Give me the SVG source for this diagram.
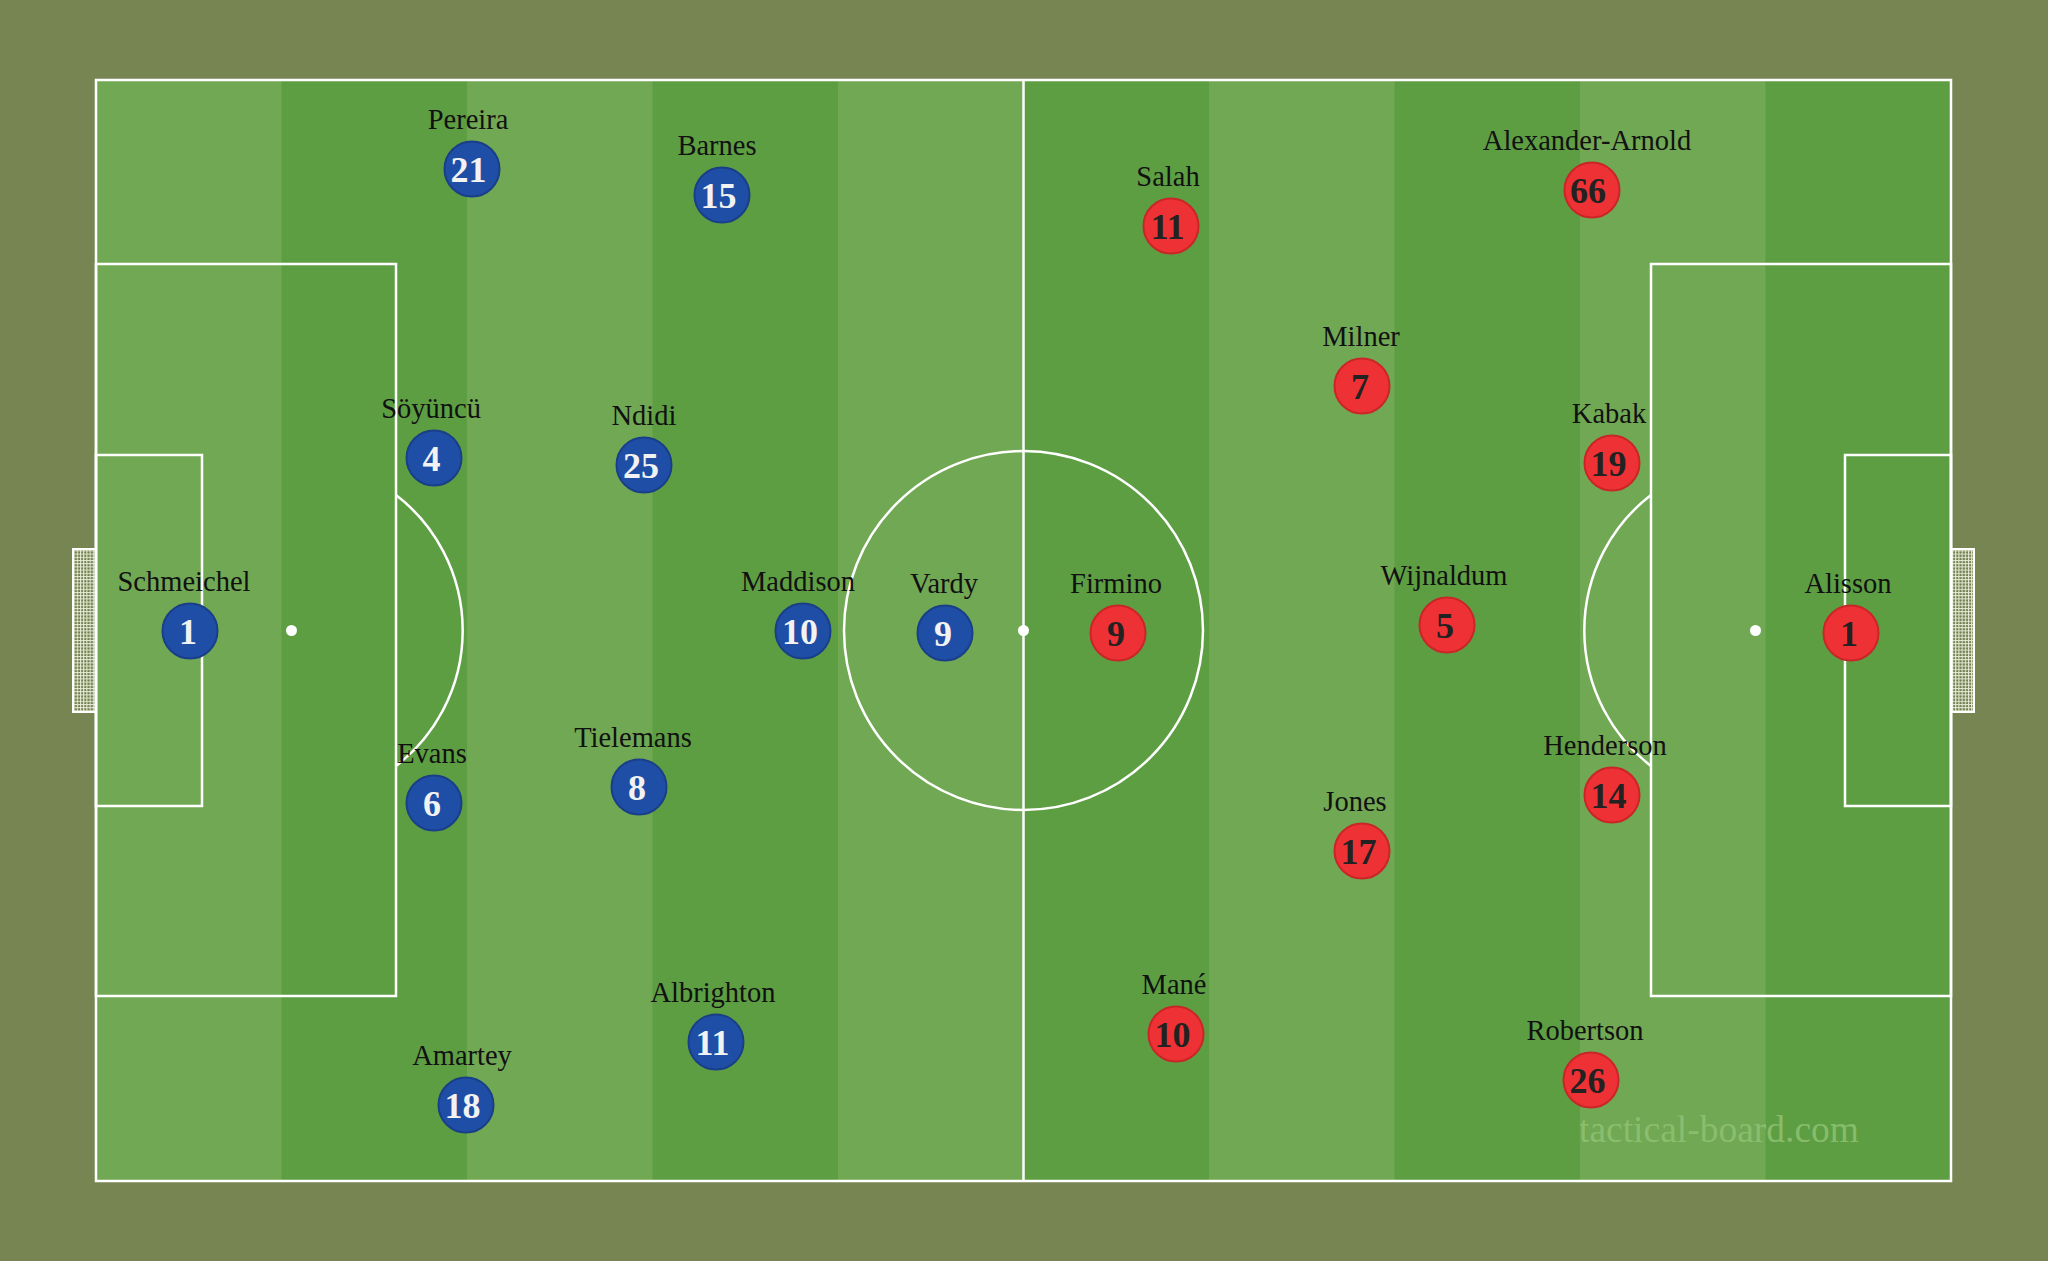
<svg xmlns="http://www.w3.org/2000/svg" width="2048" height="1261" viewBox="0 0 2048 1261">
<defs>
<pattern id="net" width="3.2" height="3.2" patternUnits="userSpaceOnUse">
<rect width="3.2" height="3.2" fill="#6f7d4c"/>
<path d="M0 0.5H3.2M0.5 0V3.2" stroke="#e8ecd8" stroke-width="1.1"/>
</pattern>
<style>
.ln{fill:none;stroke:#ffffff;stroke-width:2.5}
.lt{fill:#71a853}
.dk{fill:#5d9e43}
.nm{font-family:"Liberation Serif","Times New Roman",serif;font-size:28.5px;fill:#111111;text-anchor:middle}
.no{font-family:"Liberation Serif","Times New Roman",serif;font-size:36px;font-weight:bold;text-anchor:middle}
.b circle{fill:#1f4ea6;stroke:#1a3f88;stroke-width:2}
.b text.no{fill:#f2f2f2}
.r circle{fill:#ee3134;stroke:#c92628;stroke-width:2}
.r text.no{fill:#222222}
.wm{font-family:"Liberation Serif","Times New Roman",serif;font-size:37.5px;fill:#8fc273;fill-opacity:0.85}
</style>
</defs>
<rect width="2048" height="1261" fill="#778552"/>
<g id="pitch">
<rect class="lt" x="96" y="80" width="186" height="1101"/>
<rect class="dk" x="281.5" y="80" width="186" height="1101"/>
<rect class="lt" x="467" y="80" width="186" height="1101"/>
<rect class="dk" x="652.5" y="80" width="186" height="1101"/>
<rect class="lt" x="838" y="80" width="186" height="1101"/>
<rect class="dk" x="1023.5" y="80" width="186" height="1101"/>
<rect class="lt" x="1209" y="80" width="186" height="1101"/>
<rect class="dk" x="1394.5" y="80" width="186" height="1101"/>
<rect class="lt" x="1580" y="80" width="186" height="1101"/>
<rect class="dk" x="1765.5" y="80" width="185.5" height="1101"/>
<rect x="73" y="549" width="23" height="163" fill="url(#net)" stroke="#ffffff" stroke-width="2"/>
<rect x="1951" y="549" width="23" height="163" fill="url(#net)" stroke="#ffffff" stroke-width="2"/>
<rect class="ln" x="96" y="80" width="1855" height="1101" stroke-width="3"/>
<line class="ln" x1="1023.5" y1="80" x2="1023.5" y2="1181"/>
<circle class="ln" cx="1023.5" cy="630.5" r="179.5"/>
<circle cx="1023.5" cy="630.5" r="5.5" fill="#ffffff"/>
<rect class="ln" x="96" y="264" width="300" height="732"/>
<rect class="ln" x="96" y="455" width="106" height="351"/>
<circle cx="291.5" cy="630.5" r="5.5" fill="#ffffff"/>
<path class="ln" d="M396 495 A171 171 0 0 1 396 766"/>
<rect class="ln" x="1651" y="264" width="300" height="732"/>
<rect class="ln" x="1845" y="455" width="106" height="351"/>
<circle cx="1755.5" cy="630.5" r="5.5" fill="#ffffff"/>
<path class="ln" d="M1651 495 A171 171 0 0 0 1651 766"/>
<text class="wm" x="1719" y="1142" text-anchor="middle">tactical-board.com</text>
</g>
<g id="p-pereira" class="b"><text class="nm" x="468" y="129">Pereira</text><circle cx="472" cy="169" r="27.5"/><text class="no" x="468.5" y="182">21</text></g>
<g id="p-barnes" class="b"><text class="nm" x="717" y="155">Barnes</text><circle cx="722" cy="195" r="27.5"/><text class="no" x="718.5" y="208">15</text></g>
<g id="p-soyuncu" class="b"><text class="nm" x="431" y="418">Söyüncü</text><circle cx="434" cy="458" r="27.5"/><text class="no" x="431.5" y="471">4</text></g>
<g id="p-ndidi" class="b"><text class="nm" x="644" y="425">Ndidi</text><circle cx="644" cy="465" r="27.5"/><text class="no" x="641" y="478">25</text></g>
<g id="p-schmeichel" class="b"><text class="nm" x="184" y="591">Schmeichel</text><circle cx="190" cy="631" r="27.5"/><text class="no" x="188" y="644">1</text></g>
<g id="p-maddison" class="b"><text class="nm" x="798" y="591">Maddison</text><circle cx="803" cy="631" r="27.5"/><text class="no" x="800" y="644">10</text></g>
<g id="p-vardy" class="b"><text class="nm" x="944" y="593">Vardy</text><circle cx="945" cy="633" r="27.5"/><text class="no" x="943" y="646">9</text></g>
<g id="p-evans" class="b"><text class="nm" x="432" y="763">Evans</text><circle cx="434" cy="803" r="27.5"/><text class="no" x="432" y="816">6</text></g>
<g id="p-tielemans" class="b"><text class="nm" x="633" y="747">Tielemans</text><circle cx="639" cy="787" r="27.5"/><text class="no" x="637" y="800">8</text></g>
<g id="p-albrighton" class="b"><text class="nm" x="713" y="1002">Albrighton</text><circle cx="716" cy="1042" r="27.5"/><text class="no" x="712.5" y="1055">11</text></g>
<g id="p-amartey" class="b"><text class="nm" x="462" y="1065">Amartey</text><circle cx="466" cy="1105" r="27.5"/><text class="no" x="462.5" y="1118">18</text></g>
<g id="p-salah" class="r"><text class="nm" x="1168" y="186">Salah</text><circle cx="1171" cy="226" r="27.5"/><text class="no" x="1167.5" y="239">11</text></g>
<g id="p-taa" class="r"><text class="nm" x="1587" y="150">Alexander-Arnold</text><circle cx="1592" cy="190" r="27.5"/><text class="no" x="1588" y="203">66</text></g>
<g id="p-milner" class="r"><text class="nm" x="1361" y="346">Milner</text><circle cx="1362" cy="386" r="27.5"/><text class="no" x="1360" y="399">7</text></g>
<g id="p-kabak" class="r"><text class="nm" x="1609" y="423">Kabak</text><circle cx="1612" cy="463" r="27.5"/><text class="no" x="1608.5" y="476">19</text></g>
<g id="p-wijnaldum" class="r"><text class="nm" x="1444" y="585">Wijnaldum</text><circle cx="1447" cy="625" r="27.5"/><text class="no" x="1445" y="638">5</text></g>
<g id="p-firmino" class="r"><text class="nm" x="1116" y="593">Firmino</text><circle cx="1118" cy="633" r="27.5"/><text class="no" x="1116" y="646">9</text></g>
<g id="p-alisson" class="r"><text class="nm" x="1848" y="593">Alisson</text><circle cx="1851" cy="633" r="27.5"/><text class="no" x="1849" y="646">1</text></g>
<g id="p-henderson" class="r"><text class="nm" x="1605" y="755">Henderson</text><circle cx="1612" cy="795" r="27.5"/><text class="no" x="1608.5" y="808">14</text></g>
<g id="p-jones" class="r"><text class="nm" x="1355" y="811">Jones</text><circle cx="1362" cy="851" r="27.5"/><text class="no" x="1358.5" y="864">17</text></g>
<g id="p-mane" class="r"><text class="nm" x="1174" y="994">Mané</text><circle cx="1176" cy="1034" r="27.5"/><text class="no" x="1172.5" y="1047">10</text></g>
<g id="p-robertson" class="r"><text class="nm" x="1585" y="1040">Robertson</text><circle cx="1591" cy="1080" r="27.5"/><text class="no" x="1587.5" y="1093">26</text></g>
<g id="connectors"></g>
</svg>
